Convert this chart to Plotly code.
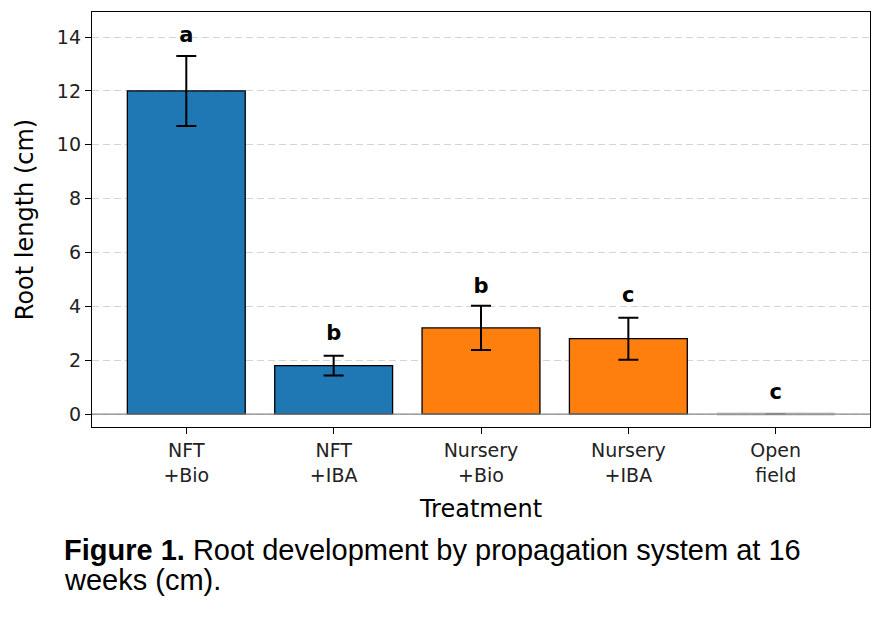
import plotly.graph_objects as go

categories = ["NFT<br>+Bio", "NFT<br>+IBA", "Nursery<br>+Bio", "Nursery<br>+IBA", "Open<br>field"]
means = [12.0, 1.8, 3.2, 2.8, 0.0]
errors = [1.3, 0.37, 0.82, 0.78, 0.0]
letters = ["a", "b", "b", "c", "c"]
letter_y = [14.0, 2.93, 4.7, 4.34, 0.74]
colors = ["#1f77b4", "#1f77b4", "#ff7f0e", "#ff7f0e", "rgba(0,0,0,0)"]
y_ticks = [0, 2, 4, 6, 8, 10, 12, 14]

xs = list(range(len(categories)))
main = xs[:4]
last = xs[4:]

fig = go.Figure()
fig.add_trace(go.Bar(
    x=main, y=means[:4], width=0.8,
    marker=dict(color=colors[:4], line=dict(color="black", width=1.3)),
    error_y=dict(type="data", array=errors[:4], color="black", thickness=2, width=10),
    showlegend=False,
))
fig.add_trace(go.Bar(
    x=last, y=means[4:], width=0.8,
    marker=dict(color=colors[4:], line=dict(color="rgba(150,150,150,0.5)", width=3)),
    error_y=dict(type="data", array=errors[4:], color="rgba(100,100,100,0.6)", thickness=2, width=10),
    showlegend=False,
))
fig.add_trace(go.Scatter(
    x=xs, y=letter_y, mode="text", text=["<b>%s</b>" % t for t in letters],
    textfont=dict(family="DejaVu Sans", size=21, color="black"),
    textposition="middle center", showlegend=False,
))

fig.add_hline(y=0, line=dict(color="#888888", width=1.2))

fig.update_layout(
    width=894, height=619,
    margin=dict(l=84, r=32, t=4, b=200),
    plot_bgcolor="white", paper_bgcolor="white",
    font=dict(family="DejaVu Sans", color="black"),
    barmode="overlay",
)
fig.update_xaxes(
    range=[-0.64, 4.64], tickmode="array", tickvals=xs, ticktext=categories,
    tickfont=dict(size=19, color="#222222"), ticks="outside", ticklen=6, tickcolor="black",
    showline=True, linecolor="black", linewidth=1.3, mirror=True, showgrid=False,
    title=dict(text="Treatment", font=dict(size=24), standoff=15),
)
fig.update_yaxes(
    range=[-0.48, 14.93], tickmode="array", tickvals=y_ticks,
    tickfont=dict(size=19, color="#222222"), ticks="outside", ticklen=6, tickcolor="black",
    showline=True, linecolor="black", linewidth=1.3, mirror=True,
    showgrid=True, gridcolor="#d4d4d4", griddash="7px,4px", gridwidth=1, zeroline=False,
    title=dict(text="Root length (cm)", font=dict(size=24), standoff=16),
)

fig.add_annotation(
    xref="paper", yref="paper", x=-0.0386, y=-0.2975, xanchor="left", yanchor="middle",
    text="<b>Figure 1.</b> Root development by propagation system at 16",
    showarrow=False, align="left",
    font=dict(family="Liberation Sans", size=29, color="black"),
)
fig.add_annotation(
    xref="paper", yref="paper", x=-0.0386, y=-0.3687, xanchor="left", yanchor="middle",
    text="weeks (cm).",
    showarrow=False, align="left",
    font=dict(family="Liberation Sans", size=29, color="black"),
)

fig.write_html("out.html")
